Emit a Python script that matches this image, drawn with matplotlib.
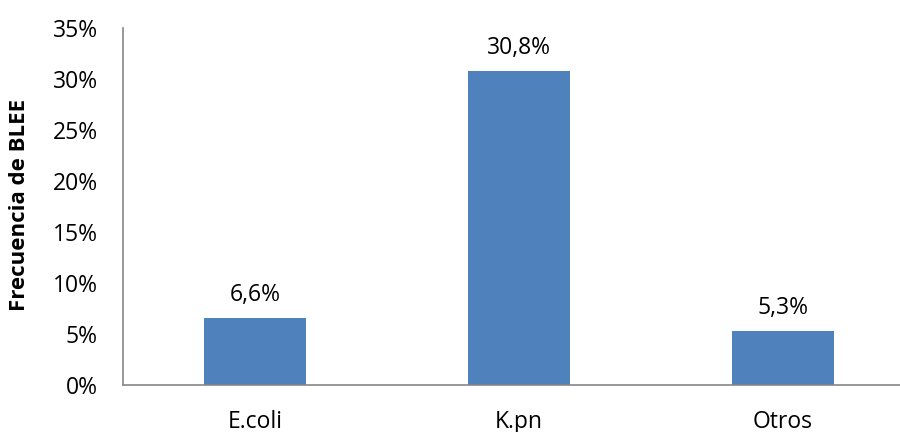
import matplotlib
matplotlib.use("Agg")
import matplotlib.pyplot as plt
from matplotlib.ticker import FuncFormatter

categories = ["E.coli", "K.pn", "Otros"]
values = [6.6, 30.8, 5.3]
value_labels = ["6,6%", "30,8%", "5,3%"]
y_ticks = [0, 5, 10, 15, 20, 25, 30, 35]

plt.rcParams['font.family'] = ['Open Sans', 'DejaVu Sans']

fig = plt.figure(figsize=(9, 4.32), dpi=100)
ax = fig.add_axes([123 / 900, 1 - 385 / 432, 792 / 900, (385 - 28) / 432])

x = list(range(len(categories)))
bars = ax.bar(x, values, width=0.39, color="#4F81BD")

# value labels above each bar
for rect, lab in zip(bars, value_labels):
    ax.annotate(lab, (rect.get_x() + rect.get_width() / 2, rect.get_height()),
                xytext=(0, 12.2), textcoords="offset points",
                ha="center", va="baseline", fontsize=16.5)

ax.set_xlim(-0.5, 2.5)
ax.set_ylim(0, 35)
ax.set_yticks(y_ticks)
ax.yaxis.set_major_formatter(FuncFormatter(lambda v, p: "%d%%" % v))
ax.set_xticks(x)
ax.set_xticklabels(categories)
ax.tick_params(axis="both", length=0, labelsize=16.5)
ax.tick_params(axis="y", pad=18)
ax.tick_params(axis="x", pad=18)

for s in ["top", "right"]:
    ax.spines[s].set_visible(False)
for s in ["left", "bottom"]:
    ax.spines[s].set_color("#868686")
    ax.spines[s].set_linewidth(1.2)

fig.text(20 / 900, 1 - 205 / 432, "Frecuencia de BLEE", rotation=90,
         ha="center", va="center", fontsize=16, fontweight="bold")

fig.savefig("out.png", dpi=100)
